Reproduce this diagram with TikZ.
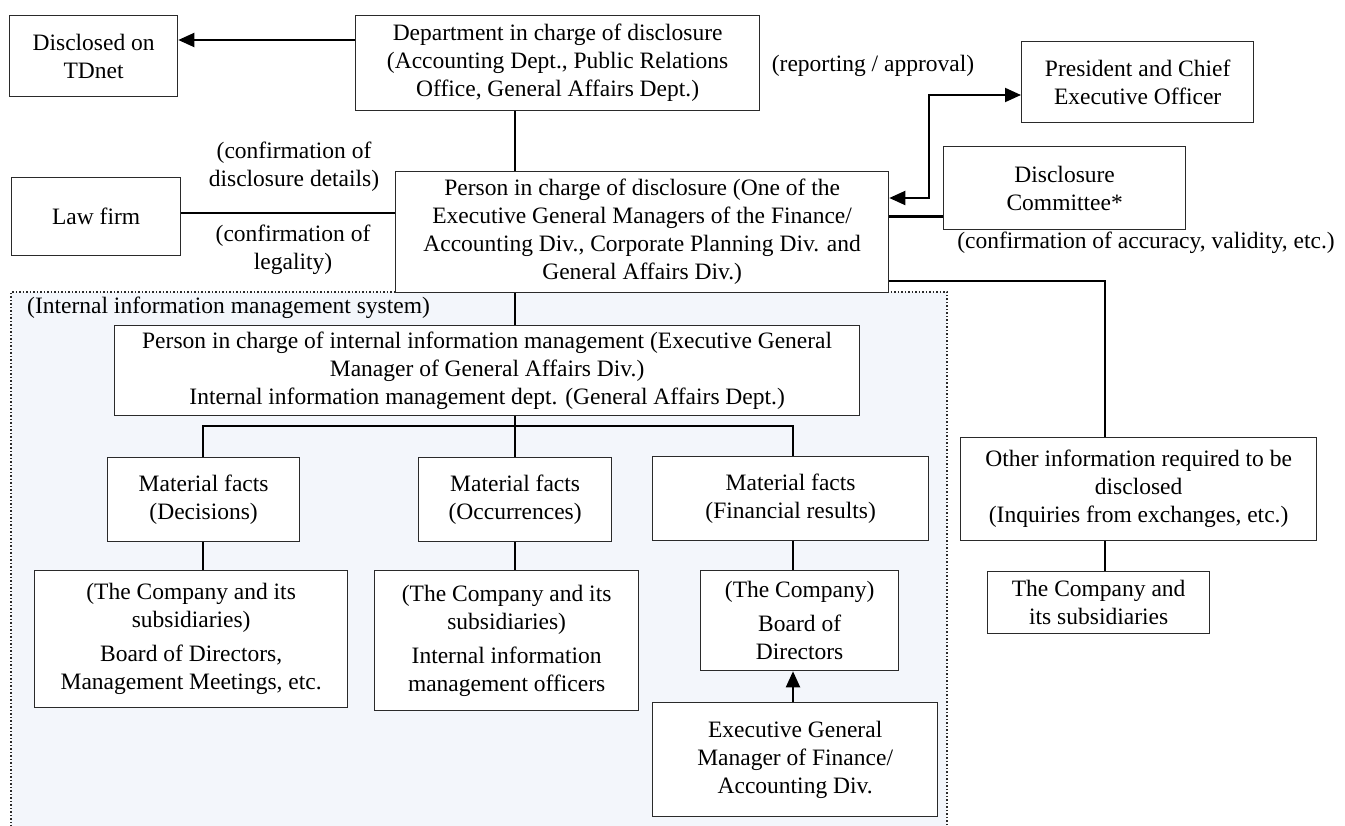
\documentclass[tikz,border=0pt]{standalone}
\usepackage{fontspec}
\setmainfont{Liberation Serif}
\usetikzlibrary{arrows.meta}
\definecolor{regionbg}{HTML}{F3F6FB}
\definecolor{boxline}{HTML}{2A2A2A}
\newcommand{\fs}{\fontsize{23.5}{28}\selectfont}
\tikzset{
 box/.style={draw=boxline, line width=1.3pt, fill=white, align=center, inner sep=0pt, font=\fs, anchor=north west},
 lbl/.style={align=center, inner sep=0pt, font=\fs},
 conn/.style={line width=2pt},
 tip/.style={line width=2pt, -{Triangle[length=16pt,width=14pt]}},
 biarrow/.style={line width=2pt, {Triangle[length=16pt,width=14pt]}-{Triangle[length=16pt,width=14pt]}},
 region/.style={fill=regionbg},
 regionedge/.style={draw=boxline, dotted, line width=1.5pt},
}
\begin{document}
\begin{tikzpicture}[x=1pt,y=-1pt]
\useasboundingbox (0,0) rectangle (1345,826);
% internal information management region
\fill[region] (11,292) rectangle (947,830);
\draw[regionedge] (11,830) -- (11,292) -- (947,292) -- (947,830);
\node[lbl, anchor=west] (lsys) at (27,308) {(Internal information management system)};

% boxes
\node[box, minimum width=168pt, minimum height=81pt] (tdnet) at (9,15) {Disclosed on\\TDnet};
\node[box, minimum width=404pt, minimum height=95pt] (dept) at (355,15) {Department in charge of disclosure\\(Accounting Dept., Public Relations\\Office, General Affairs Dept.)};
\node[box, minimum width=232pt, minimum height=81pt] (pres) at (1021,41) {President and Chief\\Executive Officer};
\node[box, minimum width=169pt, minimum height=78pt] (law) at (11,177) {Law firm};
\node[box, minimum width=493pt, minimum height=121pt] (person) at (395,171) {Person in charge of disclosure (One of the\\Executive General Managers of the Finance/\\Accounting Div., Corporate Planning Div. and\\General Affairs Div.)};
\node[box, minimum width=242pt, minimum height=83pt] (comm) at (943,146) {Disclosure\\Committee*};
\node[box, minimum width=745pt, minimum height=90pt] (internal) at (114,325) {Person in charge of internal information management (Executive General\\Manager of General Affairs Div.)\\Internal information management dept. (General Affairs Dept.)};
\node[box, minimum width=192pt, minimum height=84pt] (dec) at (107,457) {Material facts\\(Decisions)};
\node[box, minimum width=193pt, minimum height=84pt] (occ) at (418,457) {Material facts\\(Occurrences)};
\node[box, minimum width=276pt, minimum height=84pt] (fin) at (652,456) {Material facts\\(Financial results)};
\node[box, minimum width=313pt, minimum height=137pt] (declow) at (34,570) {(The Company and its\\subsidiaries)\\[6pt]Board of Directors,\\Management Meetings, etc.};
\node[box, minimum width=264pt, minimum height=140pt] (occlow) at (374,570) {(The Company and its\\subsidiaries)\\[6pt]Internal information\\management officers};
\node[box, minimum width=198pt, minimum height=100pt] (board) at (700,570) {(The Company)\\[6pt]Board of\\Directors};
\node[box, minimum width=285pt, minimum height=114pt] (egm) at (652,702) {Executive General\\Manager of Finance/\\Accounting Div.};
\node[box, minimum width=356pt, minimum height=103pt] (other) at (960,437) {Other information required to be\\disclosed\\(Inquiries from exchanges, etc.)};
\node[box, minimum width=222pt, minimum height=62pt] (comp) at (987,571) {The Company and\\its subsidiaries};

% labels
\node[lbl] (lrep) at (873,66) {(reporting / approval)};
\node[lbl] (ldet) at (294,167) {(confirmation of\\disclosure details)};
\node[lbl] (lleg) at (293,250) {(confirmation of\\legality)};
\node[lbl] (lacc) at (1146,243) {(confirmation of accuracy, validity, etc.)};

% connectors
\draw[tip] (dept.west |- 0,40) -- (tdnet.east |- 0,40);
\draw[conn] (dept.south -| 515,0) -- (person.north -| 515,0);
\draw[conn] (law.east |- 0,213) -- (person.west |- 0,213);
\draw[line width=3pt] (person.east |- 0,217) -- (comm.west |- 0,217);
\draw[biarrow] (person.east |- 0,198) -- (929,198) -- (929,95) -- (pres.west |- 0,95);
\draw[conn] (person.east |- 0,281) -| (other.north -| 1105,0);
\draw[conn] (other.south -| 1105,0) -- (comp.north -| 1105,0);
\draw[conn] (person.south -| 515,0) -- (internal.north -| 515,0);
\draw[conn] (internal.south -| 515,0) -- (occ.north -| 515,0);
\draw[conn] (dec.north -| 203,0) -- (203,426) -- (793,426) -- (fin.north -| 793,0);
\draw[conn] (dec.south -| 203,0) -- (declow.north -| 203,0);
\draw[conn] (occ.south -| 515,0) -- (occlow.north -| 515,0);
\draw[conn] (fin.south -| 793,0) -- (board.north -| 793,0);
\draw[tip] (egm.north -| 793,0) -- (board.south -| 793,0);
\end{tikzpicture}
\end{document}
